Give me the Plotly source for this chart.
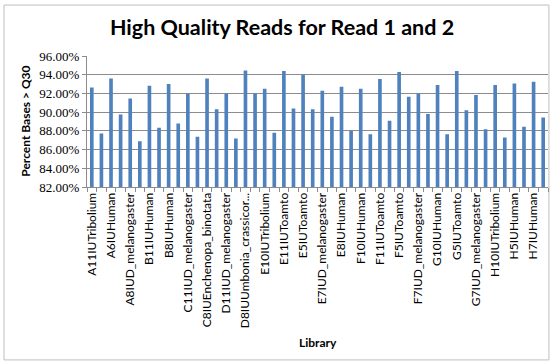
import plotly.graph_objects as go

# Libraries labelled on the category axis (every other bar carries a label)
libraries = [
    "A11IUTribolium", "A6IUHuman", "A8IUD_melanogaster", "B11IUHuman",
    "B8IUHuman", "C11IUD_melanogaster", "C8IUEnchenopa_binotata",
    "D11IUD_melanogaster", "D8IUUmbonia_crassicor...", "E10IUTribolium",
    "E11IUToamto", "E5IUToamto", "E7IUD_melanogaster", "E8IUHuman",
    "F10IUHuman", "F11IUToamto", "F5IUToamto", "F7IUD_melanogaster",
    "G10IUHuman", "G5IUToamto", "G7IUD_melanogaster", "H10IUTribolium",
    "H5IUHuman", "H7IUHuman",
]

# Percent of bases above Q30, one value per bar (48 bars)
pct_q30 = [
    92.64, 87.71, 93.60, 89.75, 91.46, 86.89, 92.82, 88.32,
    93.00, 88.79, 92.00, 87.36, 93.60, 90.32, 92.00, 87.18,
    94.45, 92.00, 92.50, 87.79, 94.40, 90.39, 94.00, 90.32,
    92.29, 89.50, 92.71, 88.00, 92.50, 87.64, 93.55, 89.07,
    94.30, 91.64, 92.00, 89.79, 92.89, 87.64, 94.40, 90.21,
    91.82, 88.18, 92.89, 87.29, 93.07, 88.43, 93.25, 89.43,
]

y_ticks = [82, 84, 86, 88, 90, 92, 94, 96]

positions = list(range(len(pct_q30)))
label_positions = positions[::2]

BAR_BLUE = "#4F81BD"
GRID = "#8C8C8C"
SANS = "Lato, Open Sans, sans-serif"

fig = go.Figure(
    go.Bar(
        x=positions,
        y=pct_q30,
        marker=dict(color=BAR_BLUE, line=dict(width=0)),
        width=0.38,
        hoverinfo="x+y",
    )
)

fig.update_layout(
    width=553,
    height=364,
    margin=dict(l=87, r=5, t=56, b=177, autoexpand=False),
    paper_bgcolor="white",
    plot_bgcolor="white",
    showlegend=False,
    title=dict(
        text="<b>High Quality Reads for Read 1 and 2</b>",
        x=0.51,
        xanchor="center",
        y=0.925,
        yanchor="middle",
        font=dict(family=SANS, size=21.5, color="#000000"),
    ),
    xaxis=dict(
        range=[-0.5, len(pct_q30) - 0.5],
        tickmode="array",
        tickvals=label_positions,
        ticktext=libraries,
        tickangle=-90,
        ticks="",
        tickfont=dict(family=SANS, size=12, color="#000000"),
        showgrid=False,
        showline=True,
        linecolor=GRID,
        linewidth=1,
        zeroline=False,
        automargin=False,
        minor=dict(
            tickmode="linear",
            tick0=0.5,
            dtick=1,
            ticks="outside",
            ticklen=4,
            tickcolor=GRID,
            showgrid=False,
        ),
        fixedrange=True,
    ),
    yaxis=dict(
        range=[82, 96],
        tickmode="array",
        tickvals=y_ticks,
        ticktext=[f"{v:.2f}%" for v in y_ticks],
        ticks="outside",
        ticklen=4,
        tickcolor=GRID,
        tickfont=dict(family="Liberation Serif, DejaVu Serif, serif", size=13, color="#000000"),
        showgrid=True,
        gridcolor=GRID,
        gridwidth=1,
        showline=True,
        linecolor=GRID,
        linewidth=1,
        zeroline=False,
        automargin=False,
        fixedrange=True,
    ),
    shapes=[
        dict(
            type="rect",
            xref="paper",
            yref="paper",
            x0=-0.18,
            x1=1.002,
            y0=-1.32,
            y1=1.389,
            line=dict(color="#BFBFBF", width=1),
            fillcolor="rgba(0,0,0,0)",
            layer="below",
        )
    ],
    annotations=[
        dict(
            text="<b>Percent Bases > Q30</b>",
            xref="paper",
            yref="paper",
            x=-0.134,
            y=0.5,
            textangle=-90,
            showarrow=False,
            xanchor="center",
            yanchor="middle",
            font=dict(family=SANS, size=12, color="#000000"),
        ),
        dict(
            text="<b>Library</b>",
            xref="paper",
            yref="paper",
            x=0.5,
            y=-1.19,
            showarrow=False,
            xanchor="center",
            yanchor="middle",
            font=dict(family=SANS, size=12, color="#000000"),
        ),
    ],
)

fig.write_html("out.html")
